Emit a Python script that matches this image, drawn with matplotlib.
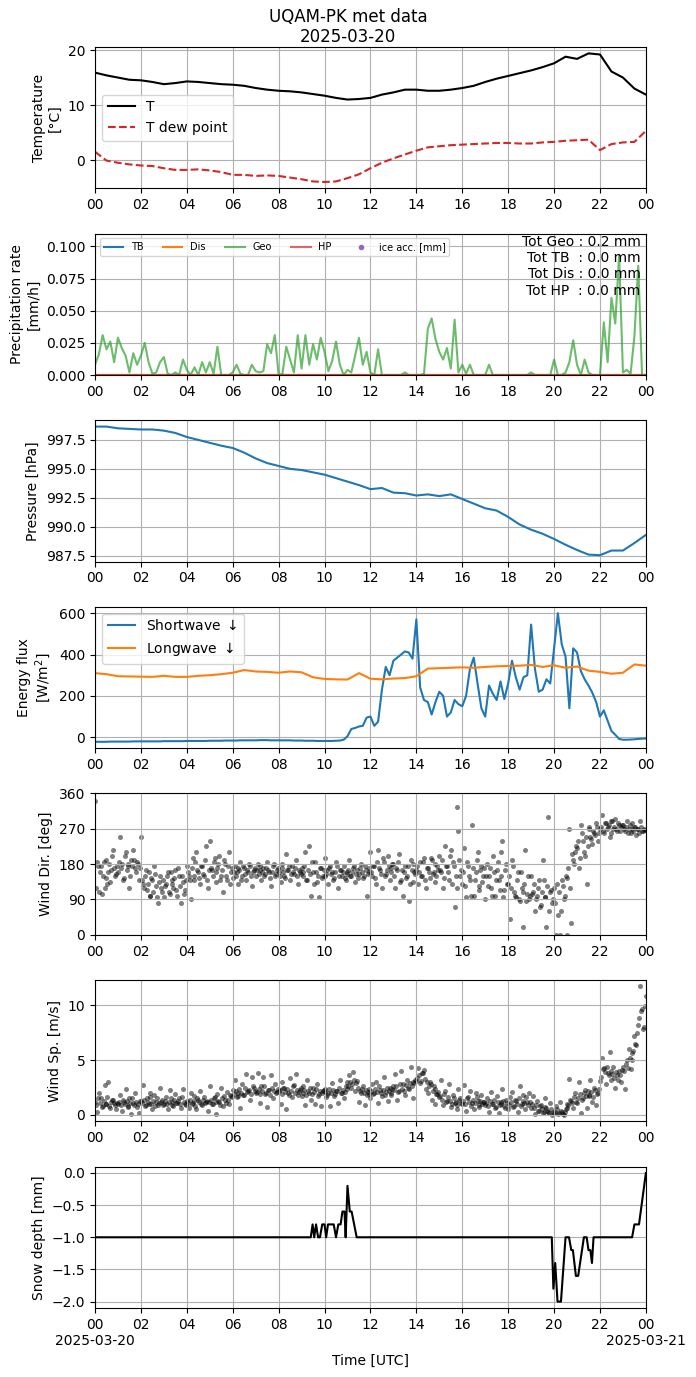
import matplotlib
matplotlib.use('Agg')
import matplotlib.pyplot as plt
import matplotlib.dates as mdates
import matplotlib.ticker as mticker
import numpy as np
import pandas as pd

# ---------------- data ----------------
DAY = '2025-03-20'

# half-hourly (00:00 .. 24:00)
temp_T = [15.9, 15.4, 15.0, 14.6, 14.5, 14.2, 13.8, 14.0, 14.3, 14.2, 14.0, 13.8,
          13.7, 13.5, 13.1, 12.8, 12.6, 12.5, 12.3, 12.0, 11.7, 11.3, 11.0, 11.1,
          11.3, 11.9, 12.3, 12.8, 12.8, 12.6, 12.6, 12.8, 13.1, 13.5, 14.2, 14.8,
          15.3, 15.8, 16.3, 16.9, 17.6, 18.8, 18.4, 19.4, 19.2, 16.1, 15.0, 13.0, 11.9]
temp_Td = [1.5, -0.1, -0.5, -0.8, -1.0, -1.1, -1.5, -1.8, -1.8, -1.7, -1.9, -2.2,
           -2.7, -2.7, -2.9, -2.8, -2.9, -3.2, -3.5, -3.9, -4.0, -3.9, -3.3, -2.6,
           -1.5, -0.5, 0.3, 1.0, 1.7, 2.3, 2.5, 2.7, 2.8, 2.9, 3.0, 3.1,
           3.1, 3.0, 3.0, 3.2, 3.3, 3.5, 3.6, 3.7, 1.8, 2.9, 3.2, 3.3, 5.3]

pressure = [998.65, 998.65, 998.5, 998.45, 998.4, 998.4, 998.3, 998.1, 997.75, 997.5,
            997.25, 997.0, 996.8, 996.4, 995.9, 995.5, 995.25, 995.0, 994.9, 994.7,
            994.5, 994.2, 993.9, 993.6, 993.25, 993.35, 992.95, 992.9, 992.7, 992.8,
            992.65, 992.8, 992.4, 992.0, 991.6, 991.4, 990.85, 990.2, 989.75, 989.4,
            988.95, 988.45, 988.0, 987.6, 987.55, 987.95, 987.95, 988.6, 989.3]

longwave = [310, 305, 295, 294, 293, 292, 297, 292, 292, 297, 300, 305,
            312, 325, 318, 316, 312, 318, 314, 290, 282, 280, 279, 310,
            283, 280, 284, 286, 295, 332, 334, 336, 338, 336, 340, 343,
            345, 346, 350, 340, 348, 336, 342, 322, 316, 307, 312, 352, 346]

# 10-minute (00:00 .. 24:00)
shortwave = [-22, -22, -22, -22, -21, -21, -21, -21, -21, -21, -20, -20,
             -20, -20, -20, -20, -20, -20, -19, -19, -19, -19, -19, -19,
             -18, -18, -18, -18, -18, -18, -17, -17, -17, -17, -16, -16,
             -16, -16, -15, -15, -15, -15, -15, -14, -14, -14, -15, -15,
             -15, -15, -15, -15, -16, -16, -16, -17, -17, -17, -18, -18,
             -18, -18, -18, -17, -16, -12, 5, 40, 45, 52, 55, 95,
             100, 55, 75, 230, 340, 300, 370, 385, 400, 415, 410, 380,
             570, 240, 180, 170, 110, 170, 220, 200, 100, 120, 180, 160,
             150, 200, 330, 385, 260, 140, 100, 250, 210, 180, 270, 185,
             260, 370, 290, 230, 290, 300, 545, 330, 220, 230, 280, 260,
             430, 600, 450, 390, 140, 430, 410, 320, 280, 250, 215, 170,
             100, 130, 80, 30, 12, -8, -12, -12, -11, -10, -8, -7, -6]

precip_geo = [0.008, 0.016, 0.031, 0.020, 0.026, 0.010, 0.029, 0.021, 0.015, 0.002, 0.017, 0.008,
              0.015, 0.025, 0.010, 0.001, 0.002, 0.010, 0.014, 0.001, 0.000, 0.002, 0.000, 0.012,
              0.004, 0.000, 0.006, 0.000, 0.010, 0.002, 0.010, 0.001, 0.022, 0.000, 0.000, 0.000,
              0.002, 0.008, 0.001, 0.000, 0.000, 0.008, 0.003, 0.002, 0.003, 0.024, 0.017, 0.031,
              0.000, 0.001, 0.022, 0.012, 0.002, 0.031, 0.005, 0.031, 0.008, 0.024, 0.012, 0.029,
              0.018, 0.003, 0.011, 0.026, 0.008, 0.000, 0.004, 0.002, 0.015, 0.029, 0.008, 0.018,
              0.002, 0.000, 0.020, 0.000, 0.000, 0.000, 0.000, 0.000, 0.000, 0.002, 0.000, 0.000,
              0.000, 0.000, 0.001, 0.036, 0.044, 0.028, 0.018, 0.012, 0.021, 0.005, 0.043, 0.002,
              0.008, 0.001, 0.008, 0.000, 0.000, 0.000, 0.000, 0.008, 0.000, 0.000, 0.000, 0.000,
              0.000, 0.000, 0.000, 0.000, 0.000, 0.000, 0.002, 0.000, 0.000, 0.000, 0.000, 0.000,
              0.012, 0.000, 0.000, 0.002, 0.010, 0.027, 0.008, 0.000, 0.012, 0.002, 0.000, 0.000,
              0.000, 0.041, 0.010, 0.060, 0.040, 0.093, 0.002, 0.004, 0.001, 0.030, 0.085, 0.000,
              0.000]
precip_tb = [0.0] * len(precip_geo)
precip_dis = [0.0] * len(precip_geo)
precip_hp = [0.0] * len(precip_geo)
precip_totals = {'Geo': 0.2, 'TB': 0.0, 'Dis': 0.0, 'HP': 0.0}

# 5-minute (00:00 .. 24:00)
wind_dir = [340, 185, 110, 175, 150, 120, 190, 160, 135, 200, 170, 155,
            160, 250, 180, 145, 210, 175, 120, 190, 215, 170, 185, 140,
            250, 130, 150, 115, 160, 100, 140, 175, 125, 80, 150, 110,
            95, 130, 160, 105, 140, 120, 165, 100, 150, 80, 135, 115,
            175, 150, 90, 195, 140, 210, 160, 130, 175, 150, 225, 120,
            240, 165, 185, 135, 170, 200, 150, 110, 180, 140, 210, 160,
            145, 175, 160, 130, 185, 150, 170, 140, 160, 175, 125, 165,
            150, 180, 165, 140, 170, 155, 185, 160, 125, 175, 150, 165,
            160, 135, 180, 150, 205, 165, 140, 175, 155, 190, 130, 160,
            170, 150, 210, 140, 225, 100, 160, 185, 135, 95, 170, 150,
            195, 155, 130, 175, 160, 145, 185, 120, 165, 150, 175, 140,
            160, 190, 150, 170, 135, 165, 155, 180, 145, 175, 100, 160,
            210, 150, 175, 130, 215, 165, 120, 185, 155, 200, 140, 170,
            180, 120, 165, 205, 140, 100, 175, 150, 85, 190, 135, 160,
            165, 130, 185, 150, 195, 120, 170, 145, 190, 160, 135, 175,
            200, 160, 120, 225, 175, 140, 215, 185, 70, 325, 265, 150,
            130, 220, 95, 175, 140, 280, 100, 160, 210, 125, 175, 150,
            90, 180, 150, 120, 200, 100, 165, 140, 210, 240, 115, 180,
            130, 40, 190, 110, 95, 160, 85, 120, 20, 215, 105, 90,
            150, 110, 60, 100, 140, 75, 190, 95, 20, 300, 110, 80,
            120, 0, 50, 0, 140, 90, 150, 0, 270, 30, 190, 210,
            220, 170, 280, 240, 200, 130, 275, 250, 230, 260, 285, 240,
            270, 305, 260, 285, 275, 250, 290, 270, 295, 265, 280, 275,
            280, 265, 290, 270, 260, 285, 275, 255, 270, 290, 265, 270, 268]

# 5-minute, offset by 2.5 minutes (00:02:30 .. 23:57:30)
wind_dir_b = [120, 175, 160, 105, 185, 145, 130, 180, 165, 215, 150, 175,
              185, 170, 140, 200, 165, 180, 150, 175, 190, 160, 180, 170,
              140, 120, 165, 130, 100, 145, 110, 155, 95, 135, 120, 140,
              125, 150, 110, 160, 130, 145, 115, 170, 125, 150, 105, 140,
              160, 140, 170, 150, 185, 165, 145, 175, 155, 190, 140, 165,
              170, 150, 195, 160, 180, 140, 165, 190, 150, 175, 130, 170,
              160, 150, 170, 165, 140, 175, 155, 165, 180, 150, 160, 170,
              165, 155, 175, 160, 150, 170, 165, 145, 160, 180, 155, 170,
              150, 170, 160, 145, 165, 175, 155, 160, 170, 150, 165, 155,
              160, 175, 140, 165, 155, 185, 130, 160, 150, 170, 145, 165,
              150, 165, 170, 155, 140, 160, 175, 150, 165, 160, 145, 155,
              165, 150, 160, 175, 155, 145, 170, 160, 150, 165, 155, 170,
              160, 175, 145, 185, 170, 155, 195, 150, 165, 175, 160, 180,
              150, 170, 185, 135, 165, 160, 145, 175, 130, 165, 180, 155,
              175, 160, 150, 185, 140, 170, 160, 195, 155, 180, 150, 165,
              165, 190, 145, 175, 160, 200, 130, 175, 150, 120, 190, 165,
              160, 125, 185, 150, 100, 170, 140, 190, 115, 165, 135, 170,
              150, 125, 170, 100, 160, 140, 185, 115, 150, 95, 165, 130,
              150, 120, 175, 100, 140, 90, 160, 110, 130, 85, 150, 100,
              105, 130, 90, 120, 70, 110, 140, 95, 125, 60, 115, 90,
              80, 130, 110, 60, 125, 100, 145, 170, 120, 205, 180, 225,
              240, 195, 260, 210, 250, 225, 270, 245, 265, 255, 275, 260,
              275, 265, 285, 270, 280, 260, 290, 275, 270, 285, 265, 280,
              270, 275, 260, 280, 270, 265, 275, 270, 260, 275, 265, 268]

wind_sp = [1.2, 0.3, 2.0, 1.5, 0.8, 2.7, 1.0, 3.0, 0.6, 1.4, 1.1, 0.5,
           1.0, 1.8, 0.4, 1.2, 2.4, 0.8, 1.5, 0.1, 1.1, 2.0, 0.7, 0.2,
           1.3, 2.7, 0.8, 1.5, 1.0, 2.0, 0.5, 1.8, 1.2, 0.9, 2.5, 1.4,
           1.0, 1.6, 0.5, 2.3, 1.2, 0.8, 1.9, 1.1, 1.5, 0.6, 2.4, 1.0,
           1.3, 0.6, 2.0, 1.1, 1.7, 0.5, 1.4, 2.2, 0.9, 1.6, 1.2, 0.4,
           2.6, 1.0, 1.5, 0.1, 1.9, 1.2, 2.5, 0.8, 1.4, 2.1, 1.0, 1.7,
           2.3, 3.2, 1.6, 2.0, 0.6, 2.8, 1.8, 3.7, 2.2, 1.4, 3.5, 2.5,
           2.0, 3.8, 1.1, 2.6, 3.5, 1.9, 0.7, 2.3, 3.6, 1.5, 2.8, 2.1,
           2.2, 1.0, 3.0, 2.5, 0.5, 2.0, 3.4, 1.6, 2.7, 3.7, 1.8, 2.3,
           1.7, 2.6, 0.9, 3.2, 2.0, 1.4, 2.5, 1.0, 2.8, 1.9, 0.8, 2.2,
           2.4, 1.6, 2.0, 0.8, 2.9, 1.7, 2.2, 1.1, 3.2, 2.0, 1.5, 2.6,
           3.0, 3.6, 2.5, 3.9, 2.2, 3.1, 1.2, 2.0, 2.6, 0.9, 1.8, 2.4,
           1.5, 2.8, 2.0, 3.0, 1.1, 2.3, 1.7, 3.5, 2.1, 1.3, 2.5, 1.8,
           2.6, 3.7, 1.4, 2.2, 4.0, 2.8, 1.8, 3.2, 2.4, 4.4, 1.5, 2.9,
           3.1, 4.3, 2.9, 3.8, 4.1, 2.4, 2.0, 3.0, 1.4, 2.6, 1.0, 1.9,
           1.6, 3.2, 0.9, 2.2, 1.3, 2.8, 0.7, 1.8, 1.1, 0.5, 2.4, 1.5,
           1.0, 2.7, 0.4, 1.6, 2.2, 1.1, 0.5, 2.0, 1.3, 0.7, 1.8, 1.2,
           0.9, 1.5, 0.3, 2.1, 1.0, 0.6, 1.7, 0.2, 1.2, 2.4, 0.8, 1.4,
           0.5, 1.6, 2.1, 0.8, 1.3, 0.3, 2.6, 1.0, 1.8, 0.5, 1.2, 2.0,
           0.6, 1.7, 0.1, 1.3, 0.4, 0.9, 0.2, 1.5, 0.6, 0.3, 1.1, 0.0,
           0.2, 0.8, 0.1, 1.2, 0.3, 0.0, 0.5, 1.0, 3.3, 1.3, 0.6, 2.0,
           1.1, 3.0, 0.2, 1.5, 2.3, 0.6, 1.7, 3.2, 1.2, 2.5, 0.9, 2.0,
           3.1, 5.2, 4.3, 2.8, 3.8, 5.7, 3.2, 4.4, 2.5, 3.6, 4.0, 3.0,
           4.4, 2.4, 5.0, 6.0, 4.2, 5.6, 7.2, 6.4, 8.2, 11.7, 9.6, 8.0, 10.8]

wind_sp_b = [0.9, 1.5, 1.1, 0.7, 1.3, 1.0, 1.6, 0.8, 1.2, 1.4, 0.9, 1.1,
             1.2, 0.9, 1.4, 1.0, 1.3, 0.7, 1.1, 1.5, 0.9, 1.2, 1.0, 1.3,
             1.1, 1.4, 0.9, 1.2, 1.6, 1.0, 1.3, 0.8, 1.5, 1.1, 1.2, 0.9,
             1.3, 1.0, 1.2, 1.5, 0.9, 1.4, 1.1, 1.3, 1.0, 1.6, 1.2, 0.9,
             1.1, 1.4, 1.0, 1.3, 0.8, 1.5, 1.2, 1.0, 1.4, 1.1, 1.3, 1.2,
             1.4, 1.0, 1.6, 1.2, 1.3, 0.9, 1.5, 1.7, 1.1, 1.4, 1.8, 1.6,
             1.9, 2.2, 1.7, 2.4, 2.0, 1.8, 2.5, 2.1, 2.3, 1.9, 2.6, 2.2,
             2.1, 2.4, 1.9, 2.2, 2.6, 2.0, 2.3, 1.8, 2.5, 2.2, 2.0, 2.4,
             2.3, 1.9, 2.5, 2.1, 2.4, 1.8, 2.2, 2.6, 2.0, 2.3, 2.1, 2.5,
             2.0, 2.3, 1.8, 2.2, 2.5, 1.9, 2.1, 2.4, 1.7, 2.2, 2.0, 2.3,
             2.1, 1.8, 2.4, 2.0, 2.3, 1.9, 2.2, 2.5, 2.0, 2.3, 2.1, 2.4,
             2.6, 3.0, 2.8, 3.2, 2.9, 2.5, 2.2, 2.4, 2.0, 2.3, 2.1, 1.9,
             2.2, 1.9, 2.4, 2.1, 2.6, 2.0, 2.3, 1.8, 2.5, 2.2, 2.0, 2.4,
             2.3, 2.6, 2.1, 2.8, 2.4, 2.2, 2.7, 2.5, 2.9, 2.6, 3.0, 3.2,
             3.4, 3.6, 3.1, 3.8, 3.3, 3.0, 2.6, 2.8, 2.2, 2.4, 1.9, 2.1,
             1.7, 1.4, 1.9, 1.2, 1.6, 1.3, 1.0, 1.5, 1.2, 0.9, 1.4, 1.1,
             1.3, 1.0, 1.5, 1.2, 0.8, 1.4, 1.1, 1.6, 0.9, 1.3, 1.0, 1.2,
             1.1, 0.8, 1.3, 1.0, 1.4, 0.7, 1.2, 0.9, 1.0, 1.3, 0.6, 1.1,
             0.9, 1.2, 0.7, 1.4, 1.0, 1.5, 0.8, 1.3, 1.1, 1.6, 0.9, 1.2,
             1.0, 0.6, 0.9, 0.4, 0.8, 0.5, 0.3, 0.7, 0.4, 0.2, 0.5, 0.3,
             0.3, 0.5, 0.2, 0.4, 0.1, 0.3, 0.6, 0.9, 1.4, 1.1, 1.6, 1.2,
             1.5, 1.9, 1.4, 2.0, 1.7, 2.2, 1.8, 2.1, 1.6, 2.3, 1.9, 2.4,
             3.5, 4.2, 3.9, 4.4, 3.6, 4.0, 3.7, 3.4, 3.9, 3.2, 3.6, 4.1,
             4.0, 4.6, 4.3, 5.2, 5.0, 5.8, 6.5, 7.5, 8.8, 9.5, 7.8, 9.9]

# snow depth: (hour, value) change points
snow_hours = [0.0, 9.4, 9.48, 9.55, 9.63, 9.72, 9.8, 9.9, 10.0, 10.07, 10.15, 10.4, 10.5,
              10.6, 10.7, 10.78, 10.87, 10.92, 11.0, 11.1, 11.18, 11.4, 19.9, 19.97,
              20.05, 20.15, 20.3, 20.5, 20.65, 20.75, 20.82, 20.95, 21.05, 21.3, 21.42,
              21.5, 21.58, 21.65, 21.72, 23.4, 23.5, 23.7, 24.0]
snow_depth = [-1.0, -1.0, -0.8, -1.0, -0.8, -1.0, -1.0, -0.8, -0.8, -1.0, -0.8, -0.8, -1.0,
              -0.8, -0.8, -0.6, -0.6, -1.0, -0.2, -0.6, -0.6, -1.0, -1.0, -1.8,
              -1.4, -2.0, -2.0, -1.0, -1.0, -1.2, -1.2, -1.6, -1.6, -1.0, -1.0,
              -1.2, -1.2, -1.4, -1.0, -1.0, -0.8, -0.8, 0.0]

# ---------------- time axes ----------------
base = pd.Timestamp(DAY)


def to_time(hours):
    return base + pd.to_timedelta(np.asarray(hours, dtype=float), unit='h')


t30 = to_time(np.arange(len(temp_T)) * 0.5)
t10 = to_time(np.arange(len(shortwave)) / 6.0)
t5 = to_time(np.arange(len(wind_dir)) / 12.0)
t5b = to_time(np.arange(len(wind_dir_b)) / 12.0 + 1.0 / 24.0)
t_snow = to_time(snow_hours)

# ---------------- figure ----------------
fig, axes = plt.subplots(7, 1, figsize=(6.96, 13.77), dpi=100)
fig.subplots_adjust(left=0.1365, right=0.928, top=0.9659, bottom=0.0501, hspace=0.319)
fig.suptitle('UQAM-PK met data\n' + DAY, y=0.9945)

# 1 temperature
ax = axes[0]
ax.plot(t30, temp_T, color='k', label='T')
ax.plot(t30, temp_Td, color='C3', ls='--', label='T dew point')
ax.set_ylabel('Temperature\n[°C]')
ax.legend(loc='center left')

# 2 precipitation
ax = axes[1]
ax.plot(t10, precip_tb, color='C0', label='TB')
ax.plot(t10, precip_dis, color='C1', label='Dis')
ax.plot(t10, precip_geo, color='C2', alpha=0.7, label='Geo')
ax.plot(t10, precip_hp, color='C3', alpha=0.7, label='HP')
ax.plot([], [], 'o', color='C4', ms=3, label='ice acc. [mm]')
ax.set_ylim(0, 0.11)
ax.set_ylabel('Precipitation rate\n[mm/h]')
ax.legend(loc='upper left', ncol=5, fontsize=7)
tot_txt = '\n'.join([
    'Tot Geo : %.1f mm' % precip_totals['Geo'],
    'Tot TB  : %.1f mm' % precip_totals['TB'],
    'Tot Dis : %.1f mm' % precip_totals['Dis'],
    'Tot HP  : %.1f mm' % precip_totals['HP'],
])
ax.text(0.99, 0.99, tot_txt, transform=ax.transAxes, ha='right', va='top',
        multialignment='right', fontsize=10)

# 3 pressure
ax = axes[2]
ax.plot(t30, pressure, color='C0')
ax.set_ylabel('Pressure [hPa]')

# 4 radiation
ax = axes[3]
ax.plot(t10, shortwave, color='C0', label='Shortwave $\\downarrow$')
ax.plot(t30, longwave, color='C1', label='Longwave $\\downarrow$')
ax.set_ylabel('Energy flux\n[W/m$^2$]')
ax.legend(loc='upper left')

# 5 wind direction
ax = axes[4]
ax.scatter(t5, wind_dir, s=13, color='k', alpha=0.5, linewidths=0)
ax.scatter(t5b, wind_dir_b, s=13, color='k', alpha=0.5, linewidths=0)
ax.set_ylim(0, 360)
ax.set_yticks([0, 90, 180, 270, 360])
ax.set_ylabel('Wind Dir. [deg]')

# 6 wind speed
ax = axes[5]
ax.scatter(t5, wind_sp, s=13, color='k', alpha=0.5, linewidths=0)
ax.scatter(t5b, wind_sp_b, s=13, color='k', alpha=0.5, linewidths=0)
ax.set_ylabel('Wind Sp. [m/s]')

# 7 snow depth
ax = axes[6]
ax.plot(t_snow, snow_depth, color='k')
ax.set_ylabel('Snow depth [mm]')
ax.set_xlabel('Time [UTC]')

xmin = base
xmax = base + pd.Timedelta(days=1)
for ax in axes:
    ax.set_xlim(xmin, xmax)
    ax.xaxis.set_major_locator(mdates.HourLocator(interval=2))
    ax.xaxis.set_major_formatter(mdates.DateFormatter('%H'))
    ax.grid(True)


def bottom_fmt(x, pos=None):
    d = mdates.num2date(x)
    if d.hour == 0:
        return d.strftime('%H\n%Y-%m-%d')
    return d.strftime('%H')


axes[6].xaxis.set_major_formatter(mticker.FuncFormatter(bottom_fmt))

fig.savefig('out.png', dpi=100)
